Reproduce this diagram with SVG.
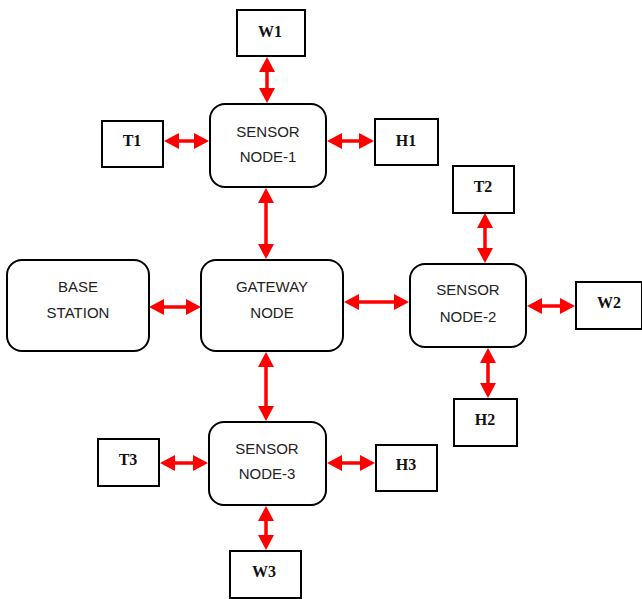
<svg xmlns="http://www.w3.org/2000/svg" width="642" height="599" viewBox="0 0 642 599">
<style>
.rn{fill:#fff;stroke:#000;stroke-width:2}
.sq{fill:#fff;stroke:#000;stroke-width:2}
.lt{font-family:"Liberation Sans",Arial,sans-serif;font-size:15px;fill:#222;text-anchor:middle}
.bt{font-family:"Liberation Serif","Times New Roman",serif;font-size:16px;font-weight:bold;fill:#111;text-anchor:middle}
.cn line{stroke:#f00;stroke-width:3.5;marker-start:url(#ah);marker-end:url(#ah)}
</style>
<defs>
<marker id="ah" markerUnits="userSpaceOnUse" markerWidth="15" markerHeight="16" viewBox="0 0 15 16" refX="2" refY="8" orient="auto-start-reverse">
<path d="M0,0 L15,8 L0,16 z" fill="#f00"/>
</marker>
</defs>
<rect width="642" height="599" fill="#fff"/>
<g id="connectors" class="cn">
<line x1="267" y1="70" x2="267" y2="90"/>
<line x1="177" y1="141" x2="196" y2="141"/>
<line x1="340" y1="141" x2="361" y2="141"/>
<line x1="266" y1="201" x2="266" y2="246"/>
<line x1="162" y1="307" x2="188" y2="307"/>
<line x1="357" y1="302" x2="396" y2="302"/>
<line x1="485" y1="226" x2="485" y2="250"/>
<line x1="540" y1="306" x2="562" y2="306"/>
<line x1="488" y1="361" x2="488" y2="385"/>
<line x1="266" y1="365" x2="266" y2="408"/>
<line x1="173" y1="463" x2="195" y2="463"/>
<line x1="340" y1="463" x2="362" y2="463"/>
<line x1="266" y1="519" x2="266" y2="537"/>
</g>
<g id="w1"><rect class="sq" x="237" y="10" width="68" height="46"/><text class="bt" x="270" y="37">W1</text></g>
<g id="t1"><rect class="sq" x="102" y="121" width="61" height="46"/><text class="bt" x="132" y="146">T1</text></g>
<g id="h1"><rect class="sq" x="375" y="119" width="63" height="46"/><text class="bt" x="406" y="146">H1</text></g>
<g id="sensor1"><rect class="rn" x="210" y="104" width="116" height="83" rx="15"/><text class="lt" x="268" y="137">SENSOR</text><text class="lt" x="268" y="162">NODE-1</text></g>
<g id="base"><rect class="rn" x="7" y="260" width="142" height="91" rx="15"/><text class="lt" x="78" y="292">BASE</text><text class="lt" x="78" y="318">STATION</text></g>
<g id="gateway"><rect class="rn" x="201" y="260" width="142" height="91" rx="15"/><text class="lt" x="272" y="292">GATEWAY</text><text class="lt" x="272" y="318">NODE</text></g>
<g id="t2"><rect class="sq" x="453" y="166" width="61" height="47"/><text class="bt" x="483" y="192">T2</text></g>
<g id="sensor2"><rect class="rn" x="410" y="264" width="116" height="83" rx="15"/><text class="lt" x="468" y="295">SENSOR</text><text class="lt" x="468" y="322">NODE-2</text></g>
<g id="w2"><rect class="sq" x="576" y="282" width="66" height="47"/><text class="bt" x="609" y="308">W2</text></g>
<g id="h2"><rect class="sq" x="454" y="399" width="63" height="47"/><text class="bt" x="485" y="425">H2</text></g>
<g id="sensor3"><rect class="rn" x="209" y="422" width="117" height="83" rx="15"/><text class="lt" x="267" y="454">SENSOR</text><text class="lt" x="267" y="479">NODE-3</text></g>
<g id="t3"><rect class="sq" x="98" y="439" width="61" height="47"/><text class="bt" x="128" y="465">T3</text></g>
<g id="h3"><rect class="sq" x="376" y="445" width="61" height="46"/><text class="bt" x="406" y="470">H3</text></g>
<g id="w3"><rect class="sq" x="230" y="551" width="71" height="47"/><text class="bt" x="264" y="577">W3</text></g>
</svg>
